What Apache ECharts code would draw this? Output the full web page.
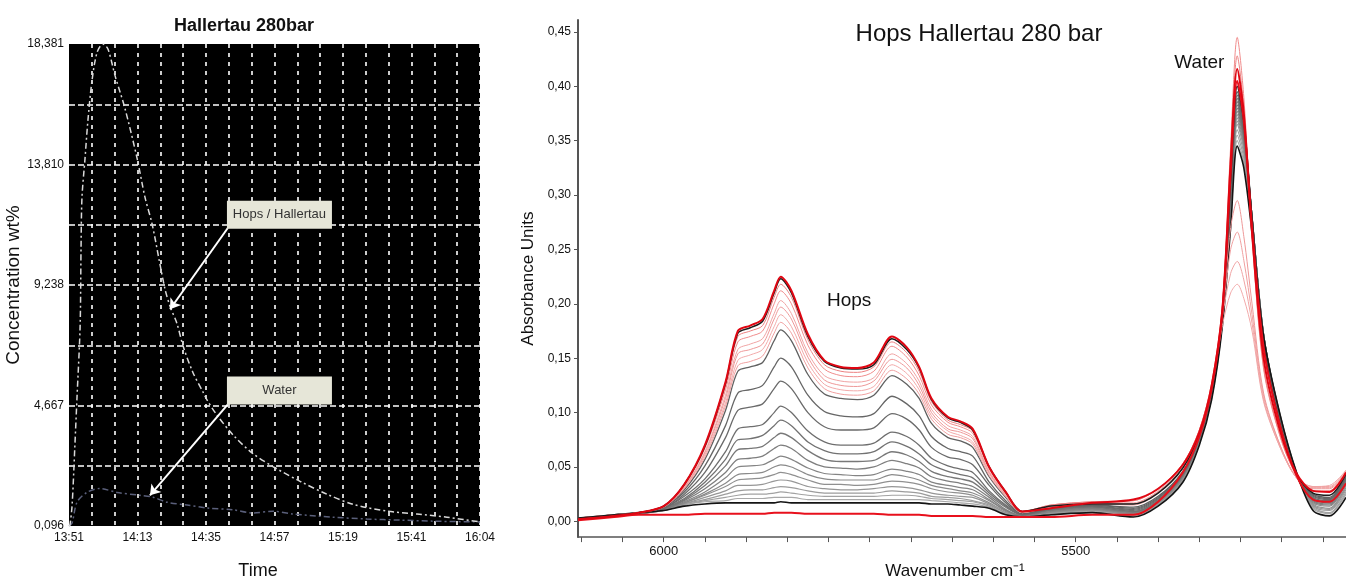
<!DOCTYPE html>
<html><head><meta charset="utf-8">
<script src="https://cdn.jsdelivr.net/npm/echarts@6/dist/echarts.min.js"></script>
<style>html,body{margin:0;padding:0;background:#fff}#c{width:1346px;height:585px}</style>
</head><body><div id="c"></div>
<script>
// ---------- LEFT PANEL DATA ----------
const SPAN_MINUTES = 133; // 13:51 -> 16:04
const timeTickLabels = ['13:51','14:13','14:35','14:57','15:19','15:41','16:04'];
const concTickValues = [0.096, 4.667, 9.238, 13.810, 18.381];
const concTickLabels = ['0,096','4,667','9,238','13,810','18,381'];
const hopsMinutes = [0,0.3,1.0,1.9,2.6,3.6,3.9,4.2,5.2,6.1,7.4,9.1,11.0,12.6,14.9,18.1,22.0,24.6,26.9,29.4,31.1,32.7,34.9,36.9,40.1,43.4,44.7,47.9,53.1,59.2,66.0,74.8,83.5,91.9,102.9,112.6,122.3,133];
const hopsConc = [0.10,0.13,0.88,3.14,5.0,7.68,10.68,12.56,14.06,15.45,16.95,18.07,18.38,18.19,17.18,15.94,14.06,12.56,11.55,10.05,9.07,8.43,7.79,6.93,5.92,5.17,4.87,4.30,3.55,2.87,2.35,1.79,1.30,0.92,0.66,0.55,0.43,0.25];
const waterMinutes = [0,1.0,2.6,5.8,10.0,15.5,23.0,27.2,31.7,38.2,44.7,53.1,59.5,66.0,72.5,85.4,96.4,107.1,117.8,133];
const waterConc = [0.10,0.21,1.0,1.37,1.52,1.37,1.26,1.19,1.0,0.89,0.78,0.71,0.59,0.66,0.55,0.43,0.36,0.32,0.28,0.25];

// ---------- RIGHT PANEL DATA ----------
const wnTickValues = [5200,5250,5300,5350,5400,5450,5500,5550,5600,5650,5700,5750,5800,5850,5900,5950,6000,6050,6100];
const wnLabelValues = [6000, 5500];
const absTickValues = [0,0.05,0.10,0.15,0.20,0.25,0.30,0.35,0.40,0.45];
const wavenumbers = [6104,6060,6030,6000,5975,5950,5925,5910,5895,5880,5866,5858,5845,5825,5805,5785,5765,5745,5723,5705,5690,5675,5655,5640,5625,5605,5585,5565,5530,5480,5430,5400,5370,5350,5335,5322,5312,5304,5296,5286,5272,5252,5232,5212,5192,5172];

const sRedBottom = [0.001,0.004,0.006, 0.006,0.006,0.007,0.007,0.007,0.007,0.007,0.008,0.008,0.008,0.007,0.007,0.007,0.007,0.007,0.006,0.006,0.006,0.005,0.005,0.005,0.005,0.004,0.004,0.004, 0.004,0.006,0.006,0.018,0.045,0.078,0.122,0.192,0.320,0.405,0.368,0.270,0.160,0.088,0.042,0.020,0.018,0.035];
const s017 = [0.002,0.006,0.008, 0.010,0.014,0.016,0.017,0.017,0.017,0.017,0.017,0.018,0.017,0.017,0.017,0.017,0.017,0.017,0.017,0.017,0.017,0.016,0.016,0.015,0.014,0.012,0.006,0.004, 0.006,0.008,0.004,0.014,0.036,0.070,0.112,0.180,0.270,0.345,0.325,0.265,0.170,0.098,0.045,0.010,0.005,0.022];
const s022 = [0.002,0.005,0.007, 0.010,0.015,0.018,0.019,0.021,0.021,0.021,0.022,0.022,0.022,0.020,0.020,0.020,0.020,0.020,0.020,0.020,0.020,0.019,0.018,0.017,0.016,0.013,0.007,0.004, 0.006,0.009,0.005,0.015,0.037,0.071,0.113,0.181,0.274,0.350,0.330,0.268,0.170,0.098,0.045,0.012,0.007,0.025];
const s027 = [0.002,0.005,0.007, 0.010,0.015,0.019,0.022,0.024,0.025,0.025,0.026,0.027,0.026,0.024,0.023,0.023,0.023,0.023,0.024,0.024,0.023,0.021,0.020,0.019,0.018,0.014,0.007,0.004, 0.007,0.009,0.005,0.015,0.038,0.072,0.114,0.182,0.278,0.355,0.334,0.270,0.171,0.098,0.045,0.013,0.008,0.027];
const s032 = [0.002,0.005,0.007, 0.010,0.016,0.020,0.025,0.028,0.029,0.029,0.031,0.032,0.031,0.028,0.026,0.026,0.026,0.026,0.028,0.027,0.026,0.023,0.022,0.021,0.019,0.015,0.008,0.004, 0.007,0.010,0.006,0.016,0.038,0.072,0.115,0.183,0.282,0.360,0.338,0.272,0.171,0.097,0.044,0.014,0.010,0.029];
const s038 = [0.002,0.005,0.007, 0.010,0.016,0.022,0.028,0.033,0.033,0.034,0.037,0.038,0.037,0.032,0.030,0.029,0.029,0.030,0.032,0.031,0.029,0.026,0.024,0.023,0.022,0.016,0.008,0.005, 0.008,0.010,0.006,0.016,0.039,0.073,0.116,0.184,0.286,0.365,0.342,0.274,0.171,0.097,0.044,0.015,0.011,0.031];
const s045 = [0.002,0.005,0.007, 0.011,0.017,0.024,0.032,0.038,0.039,0.040,0.043,0.045,0.043,0.038,0.034,0.034,0.033,0.034,0.037,0.036,0.034,0.030,0.027,0.026,0.024,0.017,0.009,0.005, 0.008,0.011,0.007,0.017,0.040,0.074,0.117,0.185,0.288,0.368,0.345,0.275,0.172,0.096,0.044,0.016,0.012,0.033];
const s052 = [0.002,0.005,0.007, 0.011,0.017,0.025,0.035,0.043,0.044,0.045,0.050,0.052,0.050,0.043,0.039,0.038,0.038,0.038,0.043,0.041,0.038,0.033,0.030,0.028,0.026,0.019,0.010,0.005, 0.009,0.011,0.007,0.017,0.040,0.074,0.117,0.186,0.290,0.371,0.347,0.276,0.172,0.096,0.044,0.017,0.014,0.035];
const s060 = [0.002,0.005,0.007, 0.011,0.018,0.027,0.040,0.050,0.051,0.052,0.057,0.060,0.057,0.049,0.044,0.043,0.042,0.043,0.048,0.046,0.043,0.036,0.033,0.031,0.029,0.020,0.010,0.005, 0.009,0.012,0.008,0.018,0.041,0.075,0.118,0.187,0.292,0.374,0.350,0.277,0.172,0.095,0.043,0.018,0.015,0.036];
const s070 = [0.002,0.005,0.007, 0.011,0.019,0.030,0.045,0.057,0.058,0.060,0.067,0.070,0.067,0.056,0.050,0.049,0.048,0.050,0.056,0.053,0.049,0.041,0.037,0.035,0.032,0.022,0.011,0.005, 0.010,0.012,0.008,0.018,0.042,0.075,0.118,0.187,0.294,0.377,0.352,0.278,0.172,0.095,0.043,0.019,0.016,0.037];
const s081 = [0.002,0.005,0.007, 0.011,0.020,0.033,0.051,0.066,0.067,0.069,0.077,0.081,0.077,0.065,0.057,0.055,0.055,0.056,0.064,0.061,0.055,0.046,0.041,0.039,0.036,0.024,0.013,0.006, 0.010,0.013,0.009,0.019,0.042,0.076,0.119,0.188,0.296,0.380,0.354,0.279,0.172,0.094,0.043,0.020,0.017,0.038];
const s093 = [0.002,0.005,0.007, 0.012,0.021,0.036,0.057,0.075,0.076,0.079,0.088,0.093,0.088,0.073,0.065,0.062,0.062,0.064,0.073,0.069,0.062,0.052,0.046,0.043,0.040,0.026,0.014,0.006, 0.011,0.013,0.009,0.019,0.043,0.076,0.119,0.188,0.298,0.383,0.356,0.280,0.171,0.094,0.042,0.021,0.018,0.039];
const s106 = [0.002,0.005,0.007, 0.012,0.023,0.039,0.064,0.085,0.087,0.089,0.100,0.106,0.100,0.083,0.073,0.070,0.070,0.072,0.082,0.078,0.070,0.058,0.051,0.048,0.045,0.028,0.015,0.006, 0.011,0.014,0.010,0.020,0.043,0.077,0.120,0.189,0.300,0.386,0.358,0.280,0.170,0.093,0.042,0.022,0.019,0.040];
const s129 = [0.003,0.005,0.007, 0.012,0.025,0.045,0.077,0.102,0.105,0.108,0.122,0.129,0.122,0.100,0.087,0.084,0.084,0.086,0.099,0.094,0.084,0.068,0.059,0.057,0.052,0.033,0.017,0.007, 0.012,0.014,0.011,0.021,0.044,0.077,0.120,0.189,0.302,0.389,0.360,0.280,0.169,0.092,0.042,0.023,0.020,0.041];
const s150 = [0.003,0.005,0.007, 0.013,0.027,0.051,0.088,0.118,0.121,0.125,0.142,0.150,0.142,0.116,0.101,0.097,0.096,0.099,0.115,0.108,0.097,0.078,0.067,0.064,0.060,0.036,0.019,0.007, 0.012,0.015,0.012,0.022,0.045,0.078,0.121,0.190,0.305,0.392,0.362,0.280,0.168,0.091,0.042,0.024,0.021,0.042];
const s176 = [0.003,0.006,0.008, 0.013,0.029,0.057,0.102,0.138,0.142,0.146,0.166,0.176,0.166,0.135,0.117,0.113,0.112,0.116,0.134,0.126,0.113,0.090,0.077,0.074,0.068,0.041,0.022,0.008, 0.013,0.015,0.013,0.023,0.046,0.078,0.121,0.190,0.308,0.395,0.364,0.279,0.166,0.090,0.042,0.025,0.022,0.043];
const p183 = [0.003,0.006,0.008, 0.013,0.030,0.059,0.106,0.143,0.147,0.152,0.173,0.183,0.173,0.141,0.122,0.117,0.116,0.120,0.139,0.131,0.117,0.094,0.080,0.077,0.071,0.042,0.023,0.008, 0.013,0.016,0.015,0.026,0.049,0.081,0.124,0.190,0.250,0.266,0.240,0.190,0.115,0.070,0.040,0.031,0.031,0.046];
const p190 = [0.003,0.006,0.008, 0.014,0.031,0.061,0.109,0.148,0.153,0.158,0.179,0.190,0.179,0.146,0.126,0.121,0.120,0.124,0.144,0.136,0.121,0.097,0.083,0.079,0.073,0.044,0.023,0.008, 0.014,0.016,0.016,0.027,0.049,0.081,0.123,0.180,0.210,0.218,0.205,0.175,0.110,0.068,0.040,0.032,0.033,0.047];
const p197 = [0.003,0.006,0.008, 0.014,0.031,0.063,0.113,0.154,0.158,0.163,0.186,0.197,0.186,0.151,0.130,0.125,0.124,0.129,0.149,0.141,0.125,0.100,0.085,0.082,0.076,0.045,0.024,0.008, 0.014,0.017,0.016,0.027,0.050,0.082,0.125,0.192,0.270,0.295,0.262,0.200,0.118,0.070,0.040,0.030,0.030,0.045];
const p203 = [0.003,0.006,0.008, 0.014,0.032,0.064,0.116,0.158,0.163,0.168,0.191,0.203,0.191,0.155,0.134,0.129,0.128,0.132,0.154,0.145,0.129,0.103,0.088,0.084,0.078,0.046,0.025,0.009, 0.014,0.017,0.017,0.028,0.050,0.082,0.124,0.188,0.228,0.239,0.222,0.182,0.112,0.068,0.040,0.032,0.032,0.047];
const p212 = [0.003,0.006,0.008, 0.014,0.033,0.067,0.121,0.165,0.170,0.175,0.200,0.212,0.200,0.162,0.140,0.134,0.133,0.138,0.161,0.151,0.134,0.107,0.091,0.087,0.081,0.048,0.026,0.009, 0.015,0.018,0.019,0.030,0.053,0.084,0.127,0.200,0.345,0.445,0.390,0.262,0.140,0.078,0.042,0.028,0.028,0.045];
const p218 = [0.003,0.006,0.008, 0.014,0.033,0.068,0.124,0.170,0.175,0.180,0.206,0.218,0.206,0.167,0.144,0.138,0.137,0.142,0.165,0.155,0.138,0.110,0.093,0.089,0.083,0.049,0.026,0.009, 0.015,0.018,0.019,0.030,0.053,0.084,0.127,0.198,0.338,0.428,0.380,0.262,0.142,0.079,0.042,0.028,0.028,0.045];
const b223 = [0.003,0.006,0.008, 0.014,0.034,0.069,0.127,0.173,0.178,0.184,0.210,0.223,0.210,0.170,0.147,0.141,0.140,0.144,0.168,0.158,0.141,0.112,0.095,0.091,0.084,0.050,0.027,0.009, 0.014,0.016,0.016,0.026,0.049,0.080,0.123,0.192,0.315,0.400,0.368,0.278,0.162,0.088,0.043,0.026,0.024,0.044];
const rTop = [0.002,0.005,0.008, 0.014,0.034,0.070,0.128,0.175,0.180,0.186,0.212,0.225,0.212,0.172,0.148,0.142,0.141,0.146,0.170,0.160,0.142,0.113,0.096,0.092,0.085,0.050,0.027,0.009, 0.012,0.017,0.020,0.030,0.052,0.082,0.125,0.195,0.330,0.416,0.375,0.265,0.150,0.083,0.044,0.028,0.027,0.045];

// drawing order & styles (kept separate from the values)
const spectraStyles = [
  [s022,'#a8a8a8',1.2],[s027,'#a2a2a2',1.2],[s032,'#9c9c9c',1.2],[s038,'#969696',1.2],
  [s045,'#909090',1.2],[s052,'#8a8a8a',1.2],[s060,'#848484',1.2],[s070,'#7e7e7e',1.3],
  [s081,'#787878',1.3],[s093,'#727272',1.3],[s106,'#6e6e6e',1.3],[s129,'#6a6a6a',1.3],
  [s150,'#666666',1.3],[s176,'#606060',1.3],
  [s017,'#141414',1.6],
  [p183,'#f0a0a0',1],[p190,'#f2aaaa',1],[p197,'#ee9898',1],[p203,'#f0a4a4',1],
  [p212,'#f08c8c',1],[p218,'#ec8080',1],
  [b223,'#1c1c1c',1.5],
  [sRedBottom,'#e8101c',2],[rTop,'#e00612',2]
];

const FONT = 'Liberation Sans, Arial, sans-serif';
const chart = echarts.init(document.getElementById('c'), null, {renderer:'canvas'});

const spectraSeries = spectraStyles.map(([arr,color,width],k)=>({
  type:'line', xAxisIndex:1, yAxisIndex:2, silent:true,
  data: wavenumbers.map((w,i)=>[w, arr[i]]),
  symbol:'none', smooth:0.3, z: 2 + k,
  lineStyle:{color, width}
}));
spectraSeries[0].markPoint = {
  silent:true, symbol:'circle', symbolSize:1, itemStyle:{color:'rgba(0,0,0,0)'},
  label:{show:true, position:'inside', formatter:'{b}', color:'#111', fontSize:19, fontFamily:FONT},
  data:[{name:'Hops', coord:[5775, 0.203]}, {name:'Water', coord:[5350, 0.422]}]
};

chart.setOption({
  animation:false,
  backgroundColor:'#fff',
  textStyle:{fontFamily:FONT},
  title:[
    {text:'Hallertau 280bar', left:239, top:12, textAlign:'center',
     textStyle:{fontSize:18, fontWeight:'bold', color:'#111', fontFamily:FONT}},
    {text:'Hops Hallertau 280 bar', left:974, top:17, textAlign:'center',
     textStyle:{fontSize:24, fontWeight:'normal', color:'#111', fontFamily:FONT}}
  ],
  grid:[
    {left:69, top:44, width:411, height:487, show:true, backgroundColor:'#000', borderWidth:0},
    {left:578, top:20, right:0, height:525, show:false}
  ],
  xAxis:[
    {gridIndex:0, type:'value', min:0, max:SPAN_MINUTES, interval:SPAN_MINUTES/18,
     axisLine:{show:false, onZero:false}, axisTick:{show:false},
     axisLabel:{customValues: timeTickLabels.map((_,k)=>k*SPAN_MINUTES/6), color:'#111', fontSize:12, margin:6,
       formatter:(v)=>{const k=Math.round(v/(SPAN_MINUTES/6)); return Math.abs(v-k*SPAN_MINUTES/6)<0.01 ? timeTickLabels[k] : '';}},
     splitLine:{show:true, showMinLine:false, showMaxLine:false, lineStyle:{color:'#fff', width:1.6, type:[4,5]}},
     name:'Time', nameLocation:'middle', nameGap:36,
     nameTextStyle:{fontSize:18, color:'#111', padding:[0,33,0,0]}},
    {gridIndex:1, type:'value', inverse:true, min:5172, max:6104,
     axisLine:{show:true, onZero:false, lineStyle:{color:'#555', width:1.5}},
     axisTick:{show:true, customValues:wnTickValues, length:5, lineStyle:{color:'#555'}},
     axisLabel:{customValues:wnLabelValues, color:'#111', fontSize:13, margin:8, formatter:(v)=>String(v)},
     splitLine:{show:false},
     name:'Wavenumber cm\u207B\u00B9', nameLocation:'middle', nameGap:25,
     nameTextStyle:{fontSize:17, color:'#111', padding:[0,14,0,0]}}
  ],
  yAxis:[
    {gridIndex:0, type:'value', min:0.096, max:18.381,
     axisLine:{show:false, onZero:false}, axisTick:{show:false}, splitLine:{show:false},
     axisLabel:{customValues:concTickValues, color:'#111', fontSize:12, margin:5,
       formatter:(v)=>{const i=concTickValues.findIndex(t=>Math.abs(t-v)<1e-6); return i>=0?concTickLabels[i]:'';}},
     name:'Concentration wt%', nameLocation:'middle', nameGap:40,
     nameTextStyle:{fontSize:19, color:'#111'}},
    {gridIndex:0, type:'value', min:0, max:8, interval:1,
     axisLine:{show:false, onZero:false}, axisTick:{show:false}, axisLabel:{show:false},
     splitLine:{show:true, showMinLine:false, showMaxLine:false, lineStyle:{color:'#fff', width:1.6, type:[6,3]}}},
    {gridIndex:1, type:'value', min:-0.0145, max:0.461,
     axisLine:{show:true, onZero:false, lineStyle:{color:'#555', width:2}},
     axisTick:{show:true, customValues:absTickValues, length:4, lineStyle:{color:'#555'}},
     axisLabel:{customValues:absTickValues, color:'#111', fontSize:12, margin:7,
       formatter:(v)=>v.toFixed(2).replace('.',',')},
     splitLine:{show:false},
     name:'Absorbance Units', nameLocation:'middle', nameGap:37,
     nameTextStyle:{fontSize:17, color:'#111'}}
  ],
  series:[
    {type:'line', name:'Water', xAxisIndex:0, yAxisIndex:0, silent:true,
     data: waterMinutes.map((t,i)=>[t, waterConc[i]]), symbol:'none', smooth:0.3,
     lineStyle:{color:'#5a5f7a', width:1.5, type:[6,3,2,3]}, z:3,
     markPoint:{silent:true, symbol:'rect', symbolSize:[105,28], itemStyle:{color:'#e6e6d8'},
       label:{show:true, position:'inside', formatter:'{b}', color:'#333', fontSize:13, fontFamily:FONT},
       data:[{name:'Hops / Hallertau', coord:[68.1, 11.90]}, {name:'Water', coord:[68.1, 5.24]}]}},
    {type:'line', name:'Hops / Hallertau', xAxisIndex:0, yAxisIndex:0, silent:true,
     data: hopsMinutes.map((t,i)=>[t, hopsConc[i]]), symbol:'none', smooth:0.3,
     lineStyle:{color:'#d9d9d9', width:1.5, type:[6,3,2,3]}, z:3,
     markLine:{silent:true, symbol:['none','arrow'], symbolSize:10,
       lineStyle:{color:'#fff', width:2, type:'solid'}, label:{show:false},
       data:[[{coord:[51.4, 11.40]},{coord:[32.7, 8.32]}], [{coord:[51.4, 4.71]},{coord:[26.2, 1.26]}]]}},
    ...spectraSeries
  ]
});
</script>
</body></html>
